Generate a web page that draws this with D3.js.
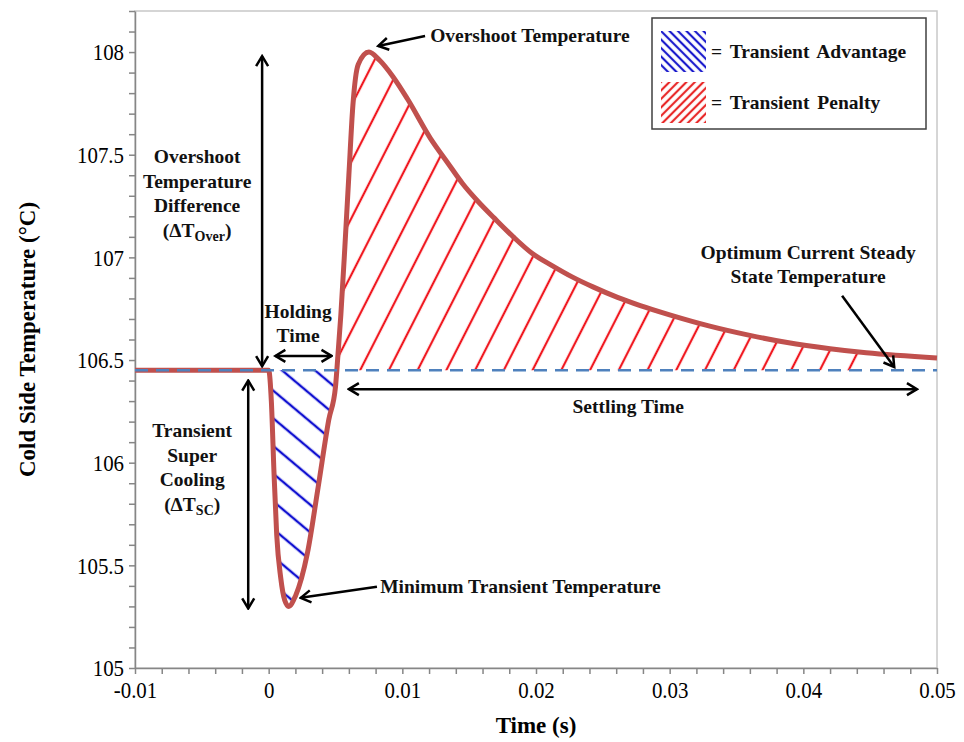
<!DOCTYPE html>
<html>
<head>
<meta charset="utf-8">
<script src="https://cdn.jsdelivr.net/npm/d3@7"></script>
<style>
body { margin: 0; background: #fff; }
text { font-family: "Liberation Serif", "Times New Roman", serif; }
</style>
</head>
<body>
<div id="wrapper"></div>
<script>
// values
const timeValues = [-0.01, -0.005, 0, 0.0002, 0.0004, 0.0006, 0.0009, 0.0012, 0.0015, 0.002, 0.0029, 0.0037, 0.0045, 0.005, 0.0051,
    0.0054, 0.0057, 0.006, 0.0063, 0.0067, 0.0075, 0.0083, 0.0093, 0.0104, 0.0121, 0.0134, 0.0145, 0.0157, 0.0169,
    0.0183, 0.0197, 0.0212, 0.0227, 0.0243, 0.0261, 0.0278, 0.03, 0.033, 0.036, 0.0388, 0.042, 0.0447, 0.05]
const tempValues = [106.45, 106.45, 106.45, 106.3, 105.95, 105.65, 105.44, 105.33, 105.3, 105.35, 105.56, 105.88, 106.21, 106.37, 106.45,
    106.72, 107.05, 107.4, 107.74, 107.94, 108.0, 107.96, 107.88, 107.77, 107.58, 107.46, 107.36, 107.27, 107.19,
    107.1, 107.02, 106.96, 106.905, 106.855, 106.805, 106.765, 106.72, 106.665, 106.62, 106.585, 106.555, 106.535, 106.51]
const steadyTemp = 106.45
const hatchEnd = 0.045

const xTickValues = [-0.01, 0, 0.01, 0.02, 0.03, 0.04, 0.05]
const xTickLabels = ["-0.01", "0", "0.01", "0.02", "0.03", "0.04", "0.05"]
const yTickValues = [105, 105.5, 106, 106.5, 107, 107.5, 108]
const yTickLabels = ["105", "105.5", "106", "106.5", "107", "107.5", "108"]
const legendLabels = ["= Transient Advantage", "= Transient Penalty"]

const data = timeValues.map((t, i) => ({t, T: tempValues[i]}))
const tMin = data[d3.minIndex(data, d => d.T)]
const tMax = data[d3.maxIndex(data, d => d.T)]
const holdEnd = data.find(d => d.t > tMin.t && d.T >= steadyTemp).t

const width = 964
const height = 742
const margin = {top: 11, right: 27, bottom: 74, left: 135}

const svg = d3.select('#wrapper')
    .append('svg')
    .attr('width', width)
    .attr('height', height)

const xScale = d3.scaleLinear()
    .domain([-0.01, 0.05])
    .range([margin.left, width - margin.right])
const yScale = d3.scaleLinear()
    .domain([105, 108.2])
    .range([height - margin.bottom, margin.top])

const defs = svg.append('defs')

function hatch(id, color, spacing, angle, ax, ay, w){
    const p = defs.append('pattern')
        .attr('id', id)
        .attr('patternUnits', 'userSpaceOnUse')
        .attr('x', ax).attr('y', ay)
        .attr('width', spacing).attr('height', spacing)
        .attr('patternTransform', `rotate(${angle} ${ax} ${ay})`)
    ;[0, spacing].forEach(x => {
        p.append('line')
            .attr('x1', x).attr('x2', x)
            .attr('y1', -1).attr('y2', spacing + 1)
            .attr('stroke', color)
            .attr('stroke-width', w)
    })
}
hatch('advHatch', '#1010d0', 21.2, -50, xScale(0), yScale(106.1), 2.4)
hatch('penHatch', '#f01820', 25.6, 27, xScale(0.00684), yScale(steadyTemp), 2.2)
hatch('advKey', '#1a1acc', 6, -45, 0, 0, 2.2)
hatch('penKey', '#e82828', 6, 45, 0, 0, 2.2)

const clip = (id, t0, t1) => defs.append('clipPath').attr('id', id)
    .append('rect')
    .attr('x', xScale(t0)).attr('width', xScale(t1) - xScale(t0))
    .attr('y', margin.top).attr('height', height - margin.top - margin.bottom)
clip('clipAdv', 0, holdEnd)
clip('clipPen', holdEnd, hatchEnd)

// plot frame
svg.append('rect')
    .attr('x', margin.left).attr('y', margin.top)
    .attr('width', width - margin.left - margin.right)
    .attr('height', height - margin.top - margin.bottom)
    .attr('fill', 'none')
    .attr('stroke', '#c8c8c8')
    .attr('stroke-width', 1.5)

// axes
const labelOf = (vals, labels) => d => {
    const i = vals.findIndex(v => Math.abs(v - d) < 1e-9)
    return i >= 0 ? labels[i] : ""
}
const squeeze = 0.87
const yAxis = d3.axisLeft(yScale)
    .tickValues(d3.range(1050, 1083).map(d => d / 10))
    .tickFormat(labelOf(yTickValues, yTickLabels))
    .tickSize(6).tickSizeOuter(0).tickPadding(4)
const xAxis = d3.axisBottom(xScale)
    .tickValues(d3.range(-5, 26).map(d => d * 0.002))
    .tickFormat(labelOf(xTickValues, xTickLabels))
    .tickSize(6).tickSizeOuter(0).tickPadding(7)

const gy = svg.append('g')
    .attr('transform', `translate(${margin.left},0)`)
    .call(yAxis)
const gx = svg.append('g')
    .attr('transform', `translate(0,${height - margin.bottom})`)
    .call(xAxis)
;[gx, gy].forEach(g => {
    g.selectAll('path, line').attr('stroke', '#868686').attr('stroke-width', 1.5)
    g.selectAll('text')
        .attr('fill', '#000')
        .attr('transform', `scale(${squeeze},1)`)
        .style('font-size', '24px')
        .style('font-family', '"Liberation Serif", serif')
})
gy.selectAll('text').attr('x', -11 / squeeze)

// hatched areas
const area = d3.area()
    .x(d => xScale(d.t))
    .y0(yScale(steadyTemp))
    .y1(d => yScale(d.T))
    .curve(d3.curveMonotoneX)
svg.append('g').attr('clip-path', 'url(#clipAdv)')
    .append('path').attr('d', area(data)).attr('fill', 'url(#advHatch)')
svg.append('g').attr('clip-path', 'url(#clipPen)')
    .append('path').attr('d', area(data)).attr('fill', 'url(#penHatch)')

// temperature curve
const line = d3.line()
    .x(d => xScale(d.t))
    .y(d => yScale(d.T))
    .curve(d3.curveMonotoneX)
svg.append('path')
    .attr('d', line(data))
    .attr('fill', 'none')
    .attr('stroke', '#c0504d')
    .attr('stroke-width', 5)
    .attr('stroke-linejoin', 'round')

// steady state dashed line
svg.append('line')
    .attr('x1', xScale(-0.01)).attr('x2', xScale(0.05))
    .attr('y1', yScale(steadyTemp)).attr('y2', yScale(steadyTemp))
    .attr('stroke', '#4f81bd')
    .attr('stroke-width', 2.5)
    .attr('stroke-dasharray', '13,8')

// arrows
defs.append('marker')
    .attr('id', 'head')
    .attr('viewBox', '-14 -9 16 18')
    .attr('refX', 0).attr('refY', 0)
    .attr('markerWidth', 16).attr('markerHeight', 18)
    .attr('markerUnits', 'userSpaceOnUse')
    .attr('orient', 'auto-start-reverse')
    .append('path')
    .attr('d', 'M-10,-6 L0,0 L-10,6')
    .attr('fill', 'none')
    .attr('stroke', '#000')
    .attr('stroke-width', 2.5)

const arrows = [
    {t0: -0.00049, T0: steadyTemp + 0.02, t1: -0.00049, T1: tMax.T - 0.02, both: true},
    {t0: -0.00153, T0: steadyTemp - 0.05, t1: -0.00153, T1: tMin.T - 0.01, both: true},
    {t0: 0.0005, T0: 106.52, t1: holdEnd - 0.0004, T1: 106.52, both: true},
    {t0: 0.006, T0: 106.358, t1: 0.0485, T1: 106.358, both: true},
    {t0: 0.0117, T0: 108.078, t1: 0.0082, T1: 108.03},
    {t0: 0.0081, T0: 105.396, t1: 0.0024, T1: 105.342},
    {t0: 0.0429, T0: 106.813, t1: 0.0468, T1: 106.466}
]
svg.append('g').selectAll('line')
    .data(arrows)
    .join('line')
    .attr('x1', d => xScale(d.t0)).attr('y1', d => yScale(d.T0))
    .attr('x2', d => xScale(d.t1)).attr('y2', d => yScale(d.T1))
    .attr('stroke', '#000')
    .attr('stroke-width', 2.5)
    .attr('marker-end', 'url(#head)')
    .attr('marker-start', d => d.both ? 'url(#head)' : null)

// annotation text
const notes = [
    {lines: ["Overshoot Temperature"], t: 0.01208, T: 108.049, anchor: 'start'},
    {lines: ["Overshoot", "Temperature", "Difference", ["(ΔT", "Over", ")"]], t: -0.00535, T: 107.458, anchor: 'middle'},
    {lines: ["Holding", "Time"], t: 0.0022, T: 106.705, anchor: 'middle'},
    {lines: ["Transient", "Super", "Cooling", ["(ΔT", "SC", ")"]], t: -0.00572, T: 106.124, anchor: 'middle'},
    {lines: ["Minimum Transient Temperature"], t: 0.00834, T: 105.366, anchor: 'start'},
    {lines: ["Optimum Current Steady", "State Temperature"], t: 0.04036, T: 106.993, anchor: 'middle'},
    {lines: ["Settling Time"], t: 0.0269, T: 106.241, anchor: 'middle'}
]
const lineGap = 24.5
notes.forEach(n => {
    n.lines.forEach((l, i) => {
        const txt = svg.append('text')
            .attr('x', xScale(n.t))
            .attr('y', yScale(n.T) + i * lineGap)
            .attr('text-anchor', n.anchor)
            .attr('font-weight', 'bold')
            .style('font-size', '19.5px')
            .attr('fill', '#111')
        if (Array.isArray(l)) {
            txt.append('tspan').text(l[0])
            txt.append('tspan').attr('dy', 4).style('font-size', '14px').text(l[1])
            txt.append('tspan').attr('dy', -4).text(l[2])
        } else {
            txt.text(l)
        }
    })
})

// axis titles
svg.append('text')
    .attr('x', (margin.left + width - margin.right) / 2)
    .attr('y', 733)
    .attr('text-anchor', 'middle')
    .attr('font-weight', 'bold')
    .style('font-size', '23px')
    .text('Time (s)')
svg.append('text')
    .attr('transform', `translate(35,${yScale(106.6)}) rotate(-90)`)
    .attr('text-anchor', 'middle')
    .attr('font-weight', 'bold')
    .style('font-size', '23px')
    .text('Cold Side Temperature (°C)')

// legend
const legend = svg.append('g').attr('transform', 'translate(652,18)')
legend.append('rect')
    .attr('width', 274).attr('height', 111)
    .attr('fill', '#fff')
    .attr('stroke', '#404040')
    .attr('stroke-width', 1.5)
const keys = legend.selectAll('g.key')
    .data(legendLabels)
    .join('g')
    .attr('class', 'key')
    .attr('transform', (d, i) => `translate(9,${13 + i * 51})`)
keys.append('rect')
    .attr('width', 45).attr('height', 41)
    .attr('fill', (d, i) => i === 0 ? 'url(#advKey)' : 'url(#penKey)')
keys.append('text')
    .attr('x', 50).attr('y', 27)
    .attr('font-weight', 'bold')
    .style('font-size', '19.5px')
    .style('word-spacing', '3px')
    .attr('fill', '#111')
    .text(d => d)
</script>
</body>
</html>
